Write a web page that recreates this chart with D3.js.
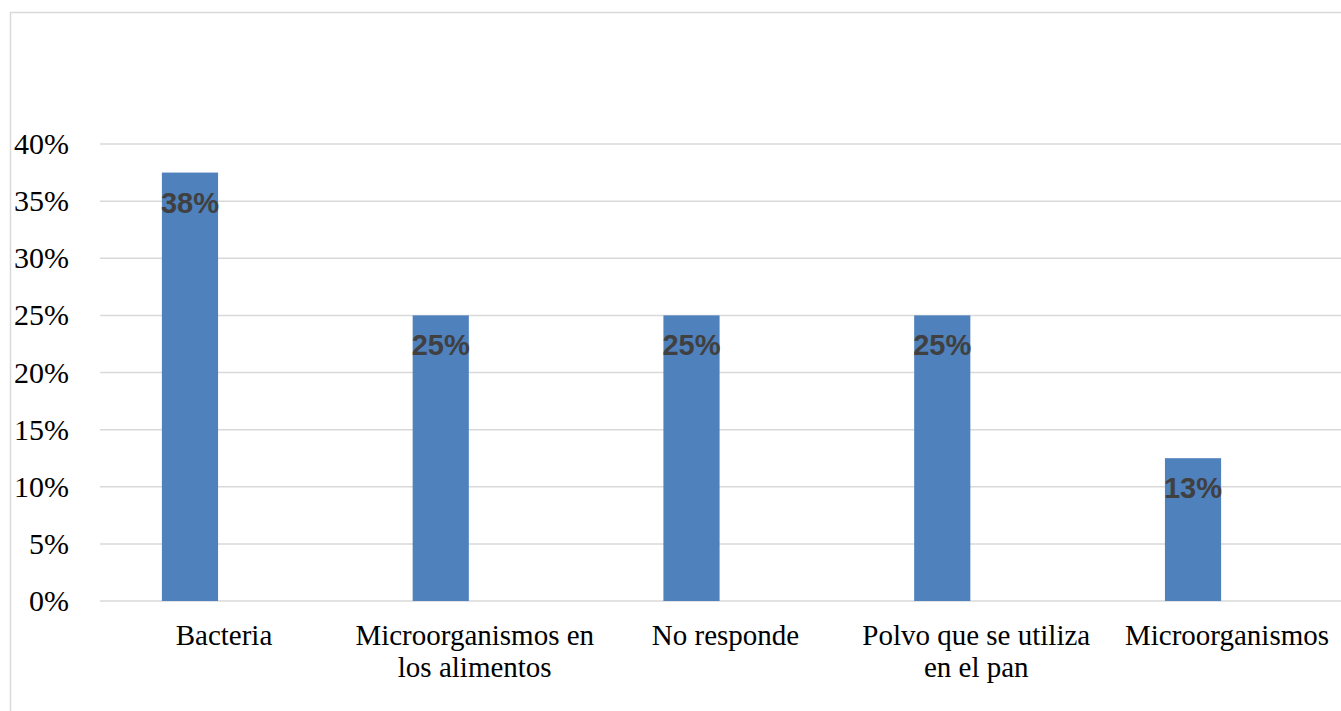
<!DOCTYPE html>
<html>
<head>
<meta charset="utf-8">
<script src="https://cdn.jsdelivr.net/npm/d3@7"></script>
<style>
  body { margin: 0; background: #fff; }
  svg { display: block; }
</style>
</head>
<body>
<div id="chart"></div>
<script>
// data
var categories = [
  ["Bacteria"],
  ["Microorganismos en", "los alimentos"],
  ["No responde"],
  ["Polvo que se utiliza", "en el pan"],
  ["Microorganismos"]
];
var values = [0.375, 0.25, 0.25, 0.25, 0.125];
var valueLabels = ["38%", "25%", "25%", "25%", "13%"];
var yTicks = [0, 0.05, 0.10, 0.15, 0.20, 0.25, 0.30, 0.35, 0.40];

var serifFont = "'Liberation Serif'";
var sansFont = "'Liberation Sans'";

var w = 1341, h = 711;
var svg = d3.select("#chart").append("svg")
  .attr("width", w)
  .attr("height", h);

// chart border (cropped at right and bottom)
svg.append("path")
  .attr("d", "M10.5," + h + "V12.5H" + w)
  .attr("fill", "none")
  .attr("stroke", "#d9d9d9")
  .attr("stroke-width", 1.5);

var yScale = d3.scaleLinear()
  .domain([0, 0.4])
  .range([601, 144]);

var xScale = d3.scaleBand()
  .domain(d3.range(categories.length))
  .range([64.6, 1318.4])
  .paddingInner(0.776)
  .paddingOuter(0.388);

var labelShift = 34;

// gridlines
svg.append("g")
  .selectAll("line")
  .data(yTicks)
  .enter()
  .append("line")
  .attr("x1", 100)
  .attr("x2", w)
  .attr("y1", function(d) { return yScale(d); })
  .attr("y2", function(d) { return yScale(d); })
  .attr("stroke", "#d9d9d9")
  .attr("stroke-width", 1.5);

// y tick labels
svg.append("g")
  .selectAll("text")
  .data(yTicks)
  .enter()
  .append("text")
  .attr("x", 69)
  .attr("y", function(d) { return yScale(d) + 10; })
  .attr("text-anchor", "end")
  .style("font-family", serifFont)
  .style("font-size", "30px")
  .attr("fill", "#000")
  .text(function(d) { return Math.round(d * 100) + "%"; });

// bars
svg.append("g")
  .selectAll("rect")
  .data(values)
  .enter()
  .append("rect")
  .attr("x", function(d, i) { return xScale(i); })
  .attr("width", xScale.bandwidth())
  .attr("y", function(d) { return yScale(d); })
  .attr("height", function(d) { return yScale(0) - yScale(d); })
  .attr("fill", "#4f81bd");

// value labels
svg.append("g")
  .selectAll("text")
  .data(values)
  .enter()
  .append("text")
  .attr("x", function(d, i) { return xScale(i) + xScale.bandwidth() / 2; })
  .attr("y", function(d) { return yScale(d) + 40; })
  .attr("text-anchor", "middle")
  .style("font-family", sansFont)
  .style("font-weight", "bold")
  .style("font-size", "29px")
  .attr("fill", "#404040")
  .text(function(d, i) { return valueLabels[i]; });

// category labels
var cat = svg.append("g")
  .selectAll("text")
  .data(categories)
  .enter()
  .append("text")
  .attr("x", function(d, i) { return xScale(i) + xScale.bandwidth() / 2 + labelShift; })
  .attr("y", 645)
  .attr("text-anchor", "middle")
  .style("font-family", serifFont)
  .style("font-size", "29px")
  .attr("fill", "#000");

cat.selectAll("tspan")
  .data(function(d) { return d; })
  .enter()
  .append("tspan")
  .attr("x", function() { return d3.select(this.parentNode).attr("x"); })
  .attr("dy", function(d, i) { return i === 0 ? 0 : 32; })
  .text(function(d) { return d; });
</script>
</body>
</html>
